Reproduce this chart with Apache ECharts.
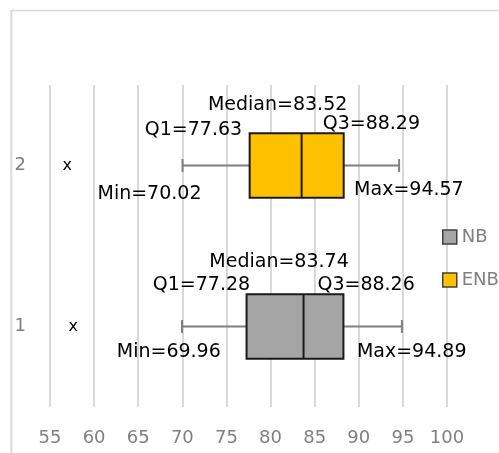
<!DOCTYPE html>
<html>
<head>
<meta charset="utf-8">
<script src="https://cdn.jsdelivr.net/npm/echarts@6/dist/echarts.min.js"></script>
<style>
  html, body { margin: 0; padding: 0; background: #ffffff; }
  #chart { width: 499px; height: 453px; }
</style>
</head>
<body>
<div id="chart"></div>
<script>
// Category rows on the vertical axis
const categories = ['1', '2'];
// Five-number summaries: min, Q1, median, Q3, max
const nbStats = [69.96, 77.28, 83.74, 88.26, 94.89];
const enbStats = [70.02, 77.63, 83.52, 88.29, 94.57];
// Outlying points per group
const nbOutliers = [57.64];
const enbOutliers = [56.95];
// Value axis ticks
const xTicks = [55, 60, 65, 70, 75, 80, 85, 90, 95, 100];

const FONT = '"DejaVu Sans", sans-serif';
const statNames = ['Min', 'Q1', 'Median', 'Q3', 'Max'];

// Pixel offsets of each annotation from its stat (dx from the value, dy from the row centre)
const labelLayout = {
  NB: [
    { dx: 38.8, dy: 25.5, align: 'right' },
    { dx: 3.6, dy: -41, align: 'right' },
    { dx: -24.5, dy: -64.5, align: 'center' },
    { dx: -26, dy: -41.5, align: 'left' },
    { dx: -45, dy: 25.5, align: 'left' }
  ],
  ENB: [
    { dx: 19, dy: 29, align: 'right' },
    { dx: -7.5, dy: -35, align: 'right' },
    { dx: -24, dy: -60, align: 'center' },
    { dx: -21, dy: -41, align: 'left' },
    { dx: -45, dy: 25, align: 'left' }
  ]
};

function renderBox(params, api) {
  const cat = api.value(0);
  const v = [1, 2, 3, 4, 5].map(i => api.value(i));
  const p = v.map(x => api.coord([x, cat]));
  const cy = p[0][1];
  const band = api.size([0, 1])[1];
  const boxH = band * 0.4;
  const capH = band * 0.08;
  const whisker = { stroke: '#7f7f7f', lineWidth: 2 };
  const children = [
    { type: 'line', shape: { x1: p[0][0], y1: cy, x2: p[1][0], y2: cy }, style: whisker },
    { type: 'line', shape: { x1: p[3][0], y1: cy, x2: p[4][0], y2: cy }, style: whisker },
    { type: 'line', shape: { x1: p[0][0], y1: cy - capH / 2, x2: p[0][0], y2: cy + capH / 2 }, style: whisker },
    { type: 'line', shape: { x1: p[4][0], y1: cy - capH / 2, x2: p[4][0], y2: cy + capH / 2 }, style: whisker },
    {
      type: 'rect',
      shape: { x: p[1][0], y: cy - boxH / 2, width: p[3][0] - p[1][0], height: boxH },
      style: { fill: api.visual('color'), stroke: '#1a1a1a', lineWidth: 2 }
    },
    {
      type: 'line',
      shape: { x1: p[2][0], y1: cy - boxH / 2, x2: p[2][0], y2: cy + boxH / 2 },
      style: { stroke: '#1a1a1a', lineWidth: 2 }
    }
  ];
  const lay = labelLayout[params.seriesName];
  v.forEach((val, i) => {
    children.push({
      type: 'text',
      style: {
        text: statNames[i] + '=' + val.toFixed(2),
        x: p[i][0] + lay[i].dx,
        y: cy + lay[i].dy,
        align: lay[i].align,
        verticalAlign: 'middle',
        font: '19px ' + FONT,
        fill: '#000000'
      }
    });
  });
  return { type: 'group', children: children };
}

function renderOutlier(params, api) {
  const pt = api.coord([api.value(0), api.value(1)]);
  return {
    type: 'text',
    style: {
      text: 'x',
      x: pt[0],
      y: pt[1],
      align: 'center',
      verticalAlign: 'middle',
      font: '16px ' + FONT,
      fill: '#000000'
    }
  };
}

const nbColor = '#a5a5a5';
const enbColor = '#ffc000';

const chart = echarts.init(document.getElementById('chart'), null, { renderer: 'canvas' });
chart.setOption({
  animation: false,
  backgroundColor: '#ffffff',
  graphic: [
    { type: 'line', shape: { x1: 11, y1: 10.5, x2: 499, y2: 10.5 }, style: { stroke: '#d9d9d9', lineWidth: 1.5 } },
    { type: 'line', shape: { x1: 11.3, y1: 10, x2: 11.3, y2: 453 }, style: { stroke: '#d9d9d9', lineWidth: 2 } }
  ],
  grid: { left: 50, right: 52, top: 85, bottom: 46 },
  legend: {
    orient: 'vertical',
    left: 437,
    top: 223,
    itemWidth: 14,
    itemHeight: 14,
    itemGap: 25,
    textStyle: { color: '#808080', fontSize: 18, fontFamily: FONT },
    data: [
      { name: 'NB', icon: 'rect', itemStyle: { color: nbColor, borderColor: '#404040', borderWidth: 1.5 } },
      { name: 'ENB', icon: 'rect', itemStyle: { color: enbColor, borderColor: '#404040', borderWidth: 1.5 } }
    ]
  },
  xAxis: {
    type: 'value',
    min: xTicks[0],
    max: xTicks[xTicks.length - 1],
    interval: xTicks[1] - xTicks[0],
    axisLine: { show: false },
    axisTick: { show: false },
    axisLabel: { color: '#808080', fontSize: 18, fontFamily: FONT, margin: 22 },
    splitLine: { show: true, lineStyle: { color: '#d9d9d9', width: 2 } }
  },
  yAxis: {
    type: 'category',
    data: categories,
    axisLine: { show: false },
    axisTick: { show: false },
    axisLabel: { color: '#808080', fontSize: 18, fontFamily: FONT, margin: 24 },
    splitLine: { show: false }
  },
  series: [
    {
      name: 'NB',
      type: 'custom',
      itemStyle: { color: nbColor },
      encode: { x: [1, 2, 3, 4, 5], y: 0 },
      renderItem: renderBox,
      data: [[0].concat(nbStats)]
    },
    {
      name: 'ENB',
      type: 'custom',
      itemStyle: { color: enbColor },
      encode: { x: [1, 2, 3, 4, 5], y: 0 },
      renderItem: renderBox,
      data: [[1].concat(enbStats)]
    },
    {
      name: 'NB',
      type: 'custom',
      itemStyle: { color: nbColor },
      encode: { x: 0, y: 1 },
      renderItem: renderOutlier,
      data: nbOutliers.map(x => [x, 0])
    },
    {
      name: 'ENB',
      type: 'custom',
      itemStyle: { color: enbColor },
      encode: { x: 0, y: 1 },
      renderItem: renderOutlier,
      data: enbOutliers.map(x => [x, 1])
    }
  ]
});
</script>
</body>
</html>
